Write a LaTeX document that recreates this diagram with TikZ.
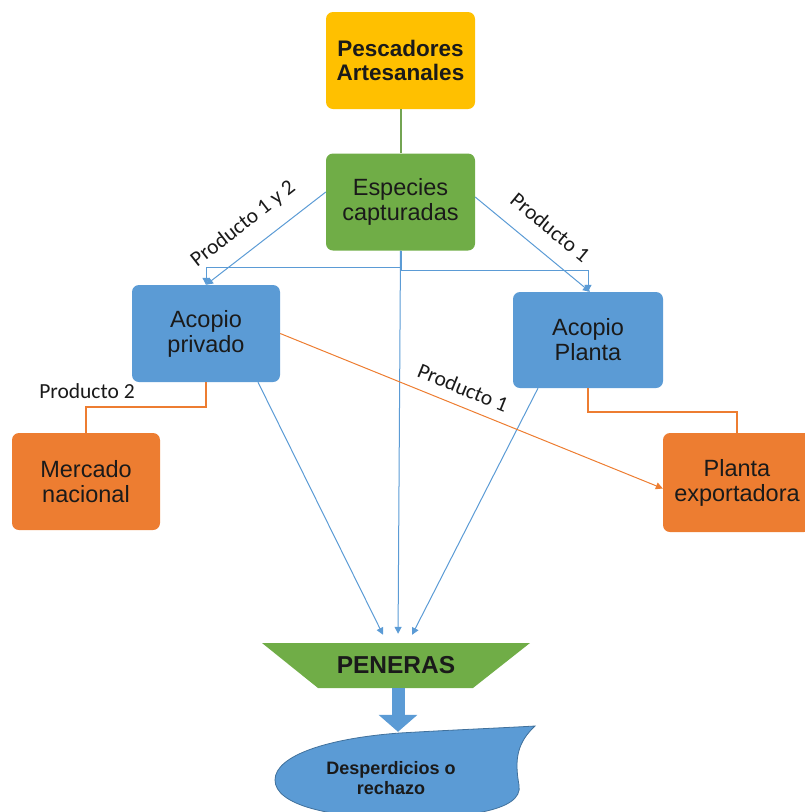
\documentclass[tikz,border=0pt]{standalone}
\usepackage{fontspec}
\setmainfont{Liberation Sans}
\newfontfamily\lblfont{Carlito}
\usetikzlibrary{arrows.meta}
\definecolor{yel}{HTML}{FFC000}
\definecolor{grn}{HTML}{70AD47}
\definecolor{blu}{HTML}{5B9BD5}
\definecolor{bluline}{HTML}{41719C}
\definecolor{org}{HTML}{ED7D31}
\definecolor{txt}{HTML}{1A1A1A}

\begin{document}
\begin{tikzpicture}[x=1pt,y=-1pt,
    box/.style={rounded corners=7pt, minimum width=149pt, minimum height=97pt,
      inner sep=0pt, align=center, text=txt, font=\fontsize{23.5}{25}\selectfont},
    lbl/.style={font=\lblfont\fontsize{21.5}{23}\selectfont, text=txt},
    bl/.style={draw=blu, line width=1pt},
    ol/.style={draw=org, line width=1pt},
    tip/.style={-{Triangle[width=7pt,length=7pt]}}]
  \useasboundingbox (0,0) rectangle (805,812);

  % boxes
  \node[box, fill=yel, font=\bfseries\fontsize{22.5}{24}\selectfont] (pesc) at (400.5,60.5) {Pescadores\\Artesanales};
  \node[box, fill=grn] (esp) at (400.5,202) {Especies\\capturadas};
  \node[box, fill=blu, minimum width=148pt] (priv) at (206,333.5) {Acopio\\privado};
  \node[box, fill=blu, minimum width=150pt, minimum height=96pt] (plan) at (588,340) {Acopio\\Planta};
  \node[box, fill=org, minimum width=148pt] (merc) at (86,481.5) {Mercado\\nacional};
  \node[box, fill=org, minimum width=148pt, minimum height=99pt] (expo) at (737,482.5) {Planta\\exportadora};

  % peneras
  \node[minimum width=268pt, minimum height=45pt, inner sep=0pt, text=txt,
    font=\bfseries\fontsize{24.5}{26}\selectfont,
    path picture={\fill[grn] (path picture bounding box.north west) -- (path picture bounding box.north east)
      -- ([xshift=-57pt]path picture bounding box.south east) -- ([xshift=56pt]path picture bounding box.south west) -- cycle;}]
    (pen) at (396,665.5) {PENERAS};

  % desperdicios
  \fill[blu, draw=bluline, line width=0.8pt] (535,726) .. controls (518,742) and (514,758) .. (519,785)
    .. controls (524,812) and (460,818) .. (400,818) .. controls (330,818) and (275,805) .. (275,780)
    .. controls (275,755) and (330,738) .. (400,733) .. controls (450,730) and (500,728) .. (535,726) -- cycle;
  \node[minimum width=250pt, minimum height=92pt, inner sep=0pt, align=center, text=txt,
    font=\bfseries\fontsize{18}{20.5}\selectfont] (desp) at (391,778) {Desperdicios o\\rechazo};

  % connectors
  \draw[grn!80!gray, line width=2pt] (pesc) -- (esp);
  \draw[bl, tip] (esp.south) -- ++(0,17) -| (priv.north);
  \draw[bl, tip] ([xshift=1pt]esp.south) -- ++(0,20) -| (plan.north);
  \draw[bl, tip] ([yshift=10pt]esp.west) -- node[lbl, sloped, above=12pt, pos=0.56] {Producto 1 y 2} (priv.north);
  \draw[bl, tip] ([yshift=5pt]esp.east) -- node[lbl, sloped, above=13pt, pos=0.52] {Producto 1} ([xshift=2pt]plan.north);
  \draw[bl, tip, shorten >=9pt] (esp.south) -- ([xshift=2pt]pen.north);
  \draw[bl, tip, shorten >=9pt] ([xshift=52pt]priv.south) -- ([xshift=-9pt]pen.north);
  \draw[bl, tip, shorten >=9pt] ([xshift=-50pt]plan.south) -- ([xshift=12pt]pen.north);
  \draw[ol, tip] (priv.east) -- node[lbl, sloped, above=7pt, pos=0.46] {Producto 1} ([yshift=-6pt]expo.west);
  \draw[ol, line width=2pt] (priv.south) -- ++(0,25) -| (merc.north);
  \node[lbl] (lp2) at (87,391) {Producto 2};
  \draw[ol, line width=2pt] (plan.south) -- ++(0,24) -| (expo.north);
  \draw[blu, line width=13pt, -{Triangle[width=38pt,length=17pt]}] ([xshift=2pt]pen.south) -- ([xshift=2pt]pen.south |- desp.north);
\end{tikzpicture}
\end{document}
